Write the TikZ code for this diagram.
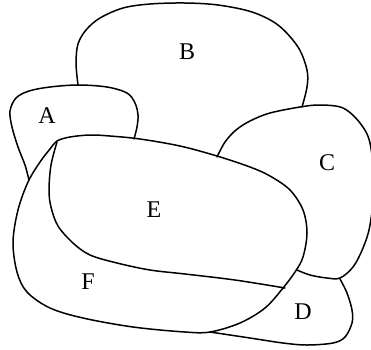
\documentclass[tikz,border=0pt]{standalone}
\usepackage{fontspec}
\setmainfont{Liberation Serif}
\begin{document}
\begin{tikzpicture}[x=1pt,y=-1pt,
  region/.style={line width=1.5pt, line join=round, line cap=round},
  lab/.style={font=\fontsize{24}{24}\selectfont, inner sep=0pt}]
\useasboundingbox (0,0) rectangle (371,349);
\clip (0,0) rectangle (371,349);
% E/F outer boundary
\draw[region] plot[smooth cycle, tension=0.55] coordinates {
  (57,141) (70,137) (90,135) (110,136) (140,139) (180,146) (217,156)
  (250,167) (270,176) (290,190) (303,210) (307,233) (303,257) (295,272)
  (283,288) (265,308) (240,323) (210,332) (185,332) (133,327) (83,318)
  (50,308) (27,292) (17,272) (13,242) (18,210) (28,182) (40,162) (50,149)};
% inner curve (E / F)
\draw[region] plot[smooth, tension=0.55] coordinates {
  (57,142) (51,165) (49,190) (51,207) (58,226) (73,243) (90,255) (117,263)
  (150,270) (185,274) (235,280) (285,288)};
% A
\draw[region] plot[smooth, tension=0.55] coordinates {
  (134,139) (137,127) (138,115) (135,103) (127,93) (107,87) (78,85) (50,87)
  (29,91) (16,98) (10,111) (12,127) (18,147) (25,165) (29,180)};
% B
\draw[region] plot[smooth, tension=0.55] coordinates {
  (78,85) (76,63) (78,44) (86,30) (100,18) (123,8) (150,4) (185,3) (218,5)
  (252,12) (278,25) (298,47) (307,70) (307,87) (302,107)};
% C
\draw[region] plot[smooth, tension=0.55] coordinates {
  (217,157) (225,142) (236,130) (250,121) (270,113) (300,107) (320,105)
  (343,108) (360,123) (370,143) (374,185) (370,225) (363,248) (353,267)
  (340,278) (327,278) (310,275) (297,270)};
% D
\draw[region] plot[smooth, tension=0.55] coordinates {
  (340,279) (347,293) (352,310) (352,323) (345,337) (333,343) (307,345)
  (283,343) (250,338) (210,332)};
\node[lab] (A) at (47,116) {A};
\node[lab] (B) at (187,52) {B};
\node[lab] (C) at (327,163) {C};
\node[lab] (D) at (303,312) {D};
\node[lab] (E) at (154,210) {E};
\node[lab] (F) at (88,282) {F};
\end{tikzpicture}
\end{document}
